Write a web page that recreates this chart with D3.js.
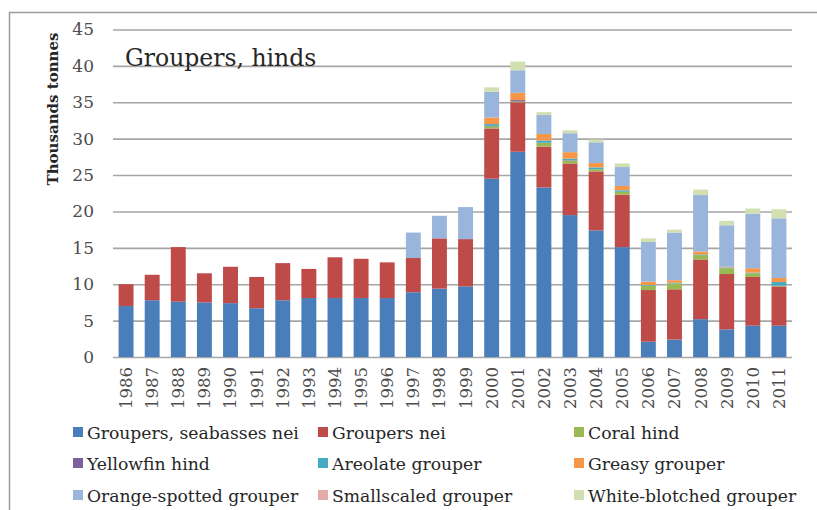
<!DOCTYPE html>
<html>
<head>
<meta charset="utf-8">
<script src="https://cdn.jsdelivr.net/npm/d3@7"></script>
<style>
  html, body { margin: 0; padding: 0; background: #fff; }
  svg { display: block; }
  text { font-family: "DejaVu Serif", "Liberation Serif", serif; }
</style>
</head>
<body>
<svg id="chart" width="817" height="510"></svg>
<script>
// Landings of groupers and hinds, thousand tonnes, 1986–2011
const years = [1986,1987,1988,1989,1990,1991,1992,1993,1994,1995,1996,1997,1998,1999,
               2000,2001,2002,2003,2004,2005,2006,2007,2008,2009,2010,2011];

const seabassesNei    = [7.0,7.8,7.6,7.5,7.4,6.7,7.8,8.1,8.1,8.1,8.1,8.9,9.4,9.7,
                         24.5,28.2,23.3,19.5,17.4,15.1,2.1,2.4,5.2,3.8,4.3,4.3];
const groupersNei     = [3.0,3.5,7.5,4.0,5.0,4.3,5.1,4.0,5.6,5.4,4.9,4.7,6.9,6.5,
                         6.9,6.8,5.6,7.1,8.1,7.2,7.1,6.9,8.2,7.6,6.7,5.4];
const coralHind       = [0,0,0,0,0,0,0,0,0,0,0,0,0,0,
                         0.3,0.1,0.5,0.4,0.3,0.4,0.6,0.8,0.6,0.8,0.5,0.1];
const yellowfinHind   = [0,0,0,0,0,0,0,0,0,0,0,0,0,0,
                         0.05,0.2,0.05,0.05,0,0,0,0,0,0,0,0];
const areolateGrouper = [0,0,0,0,0,0,0,0,0,0,0,0,0,0,
                         0.25,0,0.3,0.2,0.25,0.2,0.1,0.1,0.1,0.1,0.1,0.5];
const greasyGrouper   = [0,0,0,0,0,0,0,0,0,0,0,0,0,0,
                         0.9,1.0,0.9,0.9,0.6,0.6,0.45,0.35,0.4,0.1,0.6,0.55];
const orangeSpotted   = [0,0,0,0,0,0,0,0,0,0,0,3.5,3.1,4.4,
                         3.55,3.1,2.6,2.6,2.85,2.6,5.45,6.55,7.75,5.7,7.5,8.2];
const smallscaled     = [0,0,0,0,0,0,0,0,0,0,0,0,0,0,
                         0,0,0,0,0,0,0,0,0,0,0,0];
const whiteBlotched   = [0,0,0,0,0,0,0,0,0,0,0,0,0,0,
                         0.6,1.2,0.4,0.4,0.4,0.5,0.5,0.4,0.75,0.6,0.7,1.25];

const seriesNames = ["Groupers, seabasses nei","Groupers nei","Coral hind",
                     "Yellowfin hind","Areolate grouper","Greasy grouper",
                     "Orange-spotted grouper","Smallscaled grouper","White-blotched grouper"];
const seriesValues = [seabassesNei, groupersNei, coralHind, yellowfinHind, areolateGrouper,
                      greasyGrouper, orangeSpotted, smallscaled, whiteBlotched];
const seriesColors = ["#4a7ebb","#be4b48","#98b954","#7d60a0","#46aac5",
                      "#f79646","#9ab5dc","#e4aaa8","#d2dfb0"];

const yTicks = [0,5,10,15,20,25,30,35,40,45];
const titleText = "Groupers, hinds";
const yAxisTitle = "Thousands tonnes";

// one row per year, one column per series
const table = years.map((yr, i) => {
  const row = { year: yr };
  seriesNames.forEach((n, k) => { row[n] = seriesValues[k][i]; });
  return row;
});

const svg = d3.select("#chart");
const plot = { left: 113, right: 792, top: 29.5, bottom: 357 };

// outer frame (top and left edges)
svg.append("path")
  .attr("d", `M9.5,510 V12.5 H817`)
  .attr("fill", "none")
  .attr("stroke", "#9c9c9c")
  .attr("stroke-width", 1.5);

const x = d3.scaleBand()
  .domain(years)
  .range([plot.left, plot.right])
  .paddingInner(0.4286)
  .paddingOuter(0.2143);

const y = d3.scaleLinear()
  .domain([0, 45])
  .range([plot.bottom, plot.top]);

// value axis with gridlines
const yAxis = svg.append("g")
  .attr("transform", `translate(${plot.left},0)`)
  .call(d3.axisLeft(y).tickValues(yTicks).tickSize(-(plot.right - plot.left)).tickPadding(19));
yAxis.select(".domain").remove();
yAxis.selectAll(".tick line").attr("stroke", "#a6a6a6").attr("stroke-width", 1.6);
yAxis.selectAll(".tick text")
  .attr("fill", "#4d4d4d")
  .style("font-size", "17px")
  .style("font-family", "'DejaVu Serif', serif");

// chart title sits over the plot area
svg.append("text")
  .attr("x", 125)
  .attr("y", 66)
  .attr("fill", "#262626")
  .style("font-size", "23.5px")
  .text(titleText);

// stacked bars
const stack = d3.stack().keys(seriesNames);
const layers = stack(table);

svg.append("g").selectAll("g")
  .data(layers)
  .join("g")
  .attr("fill", (d, i) => seriesColors[i])
  .selectAll("rect")
  .data(d => d.filter(s => s[1] - s[0] > 0))
  .join("rect")
  .attr("x", d => x(d.data.year))
  .attr("width", x.bandwidth())
  .attr("y", d => y(d[1]))
  .attr("height", d => y(d[0]) - y(d[1]));

// category axis, labels rotated
const xAxis = svg.append("g")
  .attr("transform", `translate(0,${plot.bottom})`)
  .call(d3.axisBottom(x).tickSize(0).tickPadding(0));
xAxis.select(".domain").remove();
xAxis.selectAll(".tick text")
  .attr("transform", "rotate(-90)")
  .attr("text-anchor", "end")
  .attr("x", -10)
  .attr("y", 0)
  .attr("dy", "0.36em")
  .attr("fill", "#4d4d4d")
  .style("font-size", "16.5px")
  .style("font-family", "'DejaVu Serif', serif");

// axis title
svg.append("text")
  .attr("transform", `translate(58,109) rotate(-90)`)
  .attr("text-anchor", "middle")
  .attr("fill", "#262626")
  .style("font-size", "15px")
  .style("font-weight", "bold")
  .text(yAxisTitle);

// legend, three columns
const legendCols = [73, 318, 574];
const legendRows = [433, 464, 496];
const legend = svg.append("g").selectAll("g")
  .data(seriesNames)
  .join("g")
  .attr("transform", (d, i) => `translate(${legendCols[i % 3]},${legendRows[Math.floor(i / 3)]})`);
legend.append("rect")
  .attr("x", 0).attr("y", -6)
  .attr("width", 10).attr("height", 10)
  .attr("fill", (d, i) => seriesColors[i]);
legend.append("text")
  .attr("x", 14)
  .attr("y", 0)
  .attr("dy", "0.36em")
  .attr("fill", "#262626")
  .style("font-size", "17.2px")
  .text(d => d);
</script>
</body>
</html>
